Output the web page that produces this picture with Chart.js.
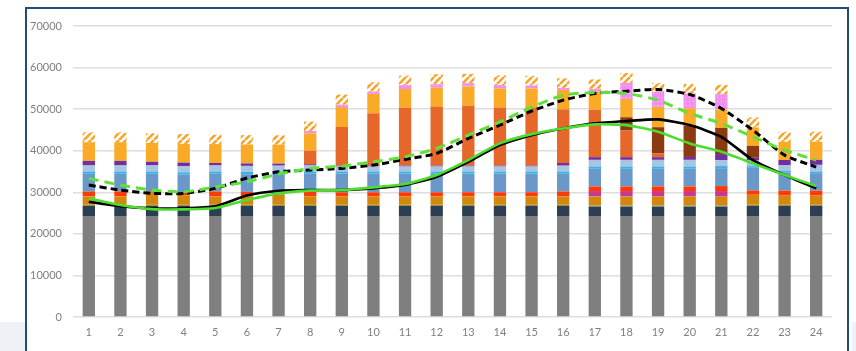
<!DOCTYPE html>
<html>
<head>
<meta charset="utf-8">
<script src="https://cdn.jsdelivr.net/npm/chart.js@4/dist/chart.umd.min.js"></script>
<style>
  html, body { margin: 0; padding: 0; background: #ffffff; }
  #wrap { position: relative; width: 856px; height: 351px; overflow: hidden; }
  #shadeL { position: absolute; left: 0; top: 322px; width: 25px; height: 40px; background: #eef2f7; }
  #shadeR { position: absolute; left: 852px; top: 322px; width: 4px; height: 40px; background: #eef2f7; }
  #frame { position: absolute; left: 25px; top: 7px; width: 824px; height: 360px; border: 2px solid #1f4e79; box-sizing: border-box; background: #ffffff; }
  #c { position: absolute; left: 0; top: 0; }
</style>
</head>
<body>
<div id="wrap">
  <div id="shadeL"></div>
  <div id="shadeR"></div>
  <div id="frame"></div>
  <canvas id="c" width="856" height="351"></canvas>
</div>
<script>
// ---- data (values in MW) ----
const hours = ['1','2','3','4','5','6','7','8','9','10','11','12','13','14','15','16','17','18','19','20','21','22','23','24'];
const yTicks = [0, 10000, 20000, 30000, 40000, 50000, 60000, 70000];

const grayBase   = [24300,24300,24300,24300,24300,24300,24300,24300,24300,24300,24300,24300,24300,24300,24300,24300,24300,24300,24300,24300,24300,24300,24300,24300];
const navy       = [2400,2400,2400,2400,2400,2400,2400,2400,2400,2400,2400,2400,2400,2400,2400,2400,2250,2250,2250,2250,2250,2400,2400,2400];
const olive      = [300,300,300,300,300,300,300,300,300,300,300,300,300,300,300,300,300,300,300,300,300,300,300,300];
const ochre      = [2000,2000,2900,2300,2000,2000,2400,2000,2000,2000,2000,2000,2000,2000,2000,2000,2150,2150,2150,2150,2100,2400,2200,2200];
const magenta    = [0,0,0,0,0,0,0,0,0,0,0,0,0,0,0,0,1300,1300,1300,1300,1350,0,0,0];
const red        = [1200,1200,300,700,1200,1100,0,1200,1000,1000,1000,1000,1000,1000,1000,1200,1100,1100,1100,1100,1200,1050,1200,1200];
const blue       = [4250,4250,4250,4250,4250,4250,5000,4250,4500,4500,4500,4500,4500,4500,4500,4250,4250,4250,4250,4250,4300,5450,4400,4200];
const cyan       = [550,550,550,550,550,550,550,550,500,500,500,500,500,500,500,550,550,550,550,550,500,400,400,400];
const lightBlue  = [1450,1450,1450,1450,1450,1450,1450,1450,1200,1200,1200,1200,1200,1200,1200,1400,1600,1600,1600,1600,1450,1350,1370,1600];
const purple     = [1100,1100,900,900,600,600,500,300,200,200,200,200,200,200,200,650,650,650,650,700,1450,650,1200,1200];
const orange     = [0,0,0,0,0,0,0,3250,9300,12600,13900,14250,14400,14000,14000,12900,11400,6400,950,0,0,0,0,0];
const brown      = [0,0,0,0,0,0,0,0,0,0,0,0,0,0,0,0,0,3200,6250,7600,6300,2880,0,0];
const yellow     = [4500,4500,4500,4500,4550,4550,4550,4200,4800,4650,4550,4550,4650,4600,4600,4650,4400,4400,4900,4100,4400,4420,4370,4370];
const pink       = [0,0,0,0,0,0,0,550,600,550,950,800,800,800,700,500,650,3850,3600,3600,3700,0,0,0];
const hatched    = [2400,2400,2350,2350,2250,2250,2250,2250,2400,2250,2250,2400,2250,2300,2300,2300,2250,2400,2150,2250,2250,2400,2400,2400];

const blackSolid  = [27720,26680,26130,26130,26610,29210,30360,30530,30530,30940,31730,33730,37330,41350,43750,45360,46570,47120,47530,46160,43340,37740,34140,30940];
const blackDashed = [31730,30530,29740,29740,30940,33420,34930,35340,35750,36540,37910,39350,42960,46160,49520,52170,53780,54330,54740,53540,50170,44950,38940,36060];
const greenSolid  = [28540,26920,25960,25890,26200,28130,29740,30410,30530,31180,31970,34140,37740,41760,43990,45360,46330,46160,44550,41760,39740,36950,34140,31490];
const greenDashed = [33340,31730,30530,30120,31250,32530,34380,35750,36300,37330,38540,40560,43750,46950,50480,53370,54020,53780,52170,48970,46570,43340,40150,37740];

// ---- patterns ----
function hatchPattern() {
  const s = 7, p = document.createElement('canvas');
  p.width = s; p.height = s;
  const g = p.getContext('2d');
  g.fillStyle = '#ffffff'; g.fillRect(0, 0, s, s);
  g.strokeStyle = '#f5a52a'; g.lineWidth = 2.6;
  g.beginPath();
  for (let k = -1; k <= 1; k++) {
    g.moveTo(k * s, s); g.lineTo(k * s + s, 0);
  }
  g.stroke();
  return g.createPattern(p, 'repeat');
}
function dotPattern() {
  const s = 4, p = document.createElement('canvas');
  p.width = s; p.height = s;
  const g = p.getContext('2d');
  g.fillStyle = '#f28ef0'; g.fillRect(0, 0, s, s);
  g.fillStyle = '#fbd3fa'; g.fillRect(1, 1, 1, 1);
  return g.createPattern(p, 'repeat');
}

const barDefs = [
  ['grayBase', grayBase, '#7f7f7f'],
  ['navy', navy, '#2c3e52'],
  ['olive', olive, '#9a9440'],
  ['ochre', ochre, '#d4870e'],
  ['magenta', magenta, '#c93a8e'],
  ['red', red, '#ff3a08'],
  ['blue', blue, '#6a98c9'],
  ['cyan', cyan, '#33b5e5'],
  ['lightBlue', lightBlue, '#a9c3e2'],
  ['purple', purple, '#7030a0'],
  ['orange', orange, '#e5672a'],
  ['brown', brown, '#8b3a12'],
  ['yellow', yellow, '#f9ab27'],
  ['pink', pink, dotPattern()],
  ['hatched', hatched, hatchPattern()]
];

const datasets = barDefs.map(([label, data, color]) => ({
  type: 'bar', label, data, backgroundColor: color, borderWidth: 0,
  stack: 'bars', order: 2, barPercentage: 0.39, categoryPercentage: 1.0
}));

function lineDs(label, data, color, dash, width, stack) {
  return {
    type: 'line', label, data, borderColor: color, backgroundColor: color,
    borderWidth: width, borderDash: dash, pointRadius: 0, tension: 0.2,
    fill: false, stack, order: 0, borderCapStyle: 'butt'
  };
}
datasets.push(lineDs('greenSolid', greenSolid, '#4fdc2f', [], 2.6, 's1'));
datasets.push(lineDs('blackSolid', blackSolid, '#000000', [], 2.6, 's2'));
datasets.push(lineDs('greenDashed', greenDashed, '#5fe03a', [10, 6], 3, 's3'));
datasets.push(lineDs('blackDashed', blackDashed, '#000000', [7, 4], 3, 's4'));

new Chart(document.getElementById('c'), {
  data: { labels: hours, datasets },
  options: {
    responsive: false,
    animation: false,
    layout: { padding: { left: 0, right: 24, top: 26, bottom: 0 } },
    plugins: { legend: { display: false }, tooltip: { enabled: false } },
    scales: {
      x: {
        stacked: true,
        grid: { display: false, drawTicks: false },
        border: { display: false },
        ticks: { color: '#7f7f7f', font: { family: 'Lato', size: 11 }, padding: 9, maxRotation: 0, autoSkip: false },
        afterFit: (s) => { s.height = 34; }
      },
      y: {
        stacked: true,
        min: 0, max: 70000,
        afterBuildTicks: (s) => { s.ticks = yTicks.map(v => ({ value: v })); },
        grid: { color: '#dedede', lineWidth: 1.5, drawTicks: false },
        border: { display: false },
        ticks: { color: '#7f7f7f', font: { family: 'Lato', size: 11 }, padding: 11, callback: (v) => String(v) },
        afterFit: (s) => { s.width = 73; }
      }
    }
  }
});
</script>
</body>
</html>
